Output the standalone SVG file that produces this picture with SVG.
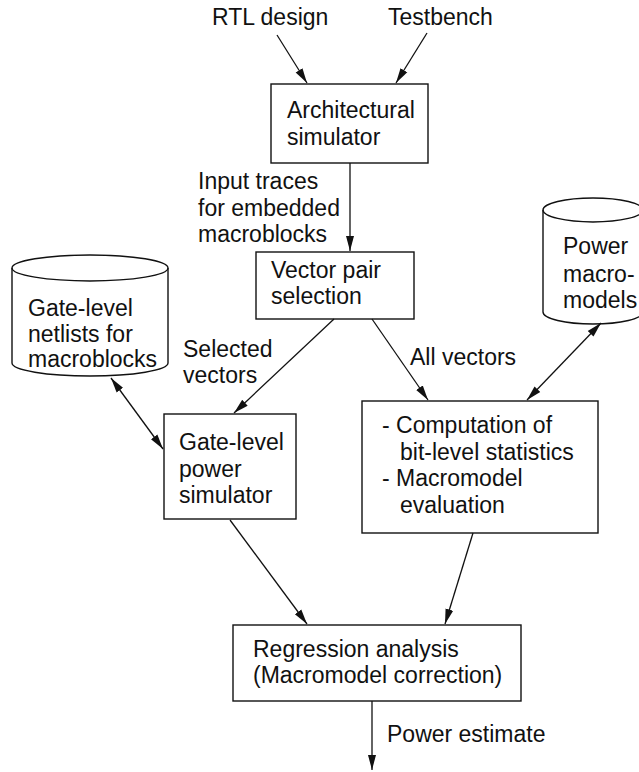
<svg xmlns="http://www.w3.org/2000/svg" width="639" height="772" viewBox="0 0 639 772">
<defs>
<marker id="ah" markerUnits="userSpaceOnUse" markerWidth="16" markerHeight="10" viewBox="0 0 16 10" refX="15" refY="5" orient="auto-start-reverse">
<path d="M0,1 L15,5 L0,9 Z" fill="#111"/>
</marker>
</defs>
<style>
text{font-family:"Liberation Sans",Arial,Helvetica,sans-serif;font-size:23px;fill:#111}
.box{fill:#fff;stroke:#111;stroke-width:1.4}
.ln{fill:none;stroke:#111;stroke-width:1.3}
.arr{fill:none;stroke:#111;stroke-width:1.3;marker-end:url(#ah)}
.arr2{fill:none;stroke:#111;stroke-width:1.3;marker-end:url(#ah);marker-start:url(#ah)}
</style>
<rect width="639" height="772" fill="#fff"/>
<g id="labels">
<text x="212" y="25">RTL design</text>
<text x="388" y="25">Testbench</text>
<text x="198" y="189">Input traces</text>
<text x="198" y="216">for embedded</text>
<text x="198" y="242">macroblocks</text>
<text x="183" y="357">Selected</text>
<text x="183" y="383">vectors</text>
<text x="410" y="365">All vectors</text>
<text x="387" y="742">Power estimate</text>
</g>
<g id="arch">
<rect class="box" x="271" y="84" width="157" height="79"/>
<text x="287" y="118">Architectural</text>
<text x="287" y="145">simulator</text>
</g>
<g id="vecpair">
<rect class="box" x="256" y="252" width="158" height="67"/>
<text x="271" y="278">Vector pair</text>
<text x="271" y="304">selection</text>
</g>
<g id="netlists">
<path class="box" d="M12,268 A78,13 0 0 1 168,268 L168,363 A78,13 0 0 1 12,363 Z"/>
<path class="ln" d="M12,268 A78,13 0 0 0 168,268"/>
<text x="28" y="316">Gate-level</text>
<text x="28" y="342">netlists for</text>
<text x="28" y="367">macroblocks</text>
</g>
<g id="powermodels">
<path class="box" d="M543,210 A50,12 0 0 1 643,210 L643,312 A50,12 0 0 1 543,312 Z"/>
<path class="ln" d="M543,210 A50,12 0 0 0 643,210"/>
<text x="563" y="254">Power</text>
<text x="563" y="282">macro-</text>
<text x="563" y="308">models</text>
</g>
<g id="gatesim">
<rect class="box" x="164" y="414" width="132" height="105"/>
<text x="179" y="450">Gate-level</text>
<text x="179" y="477">power</text>
<text x="179" y="503">simulator</text>
</g>
<g id="comp">
<rect class="box" x="362" y="401" width="236" height="132"/>
<text x="382" y="433">- Computation of</text>
<text x="400" y="460">bit-level statistics</text>
<text x="382" y="486">- Macromodel</text>
<text x="400" y="513">evaluation</text>
</g>
<g id="regression">
<rect class="box" x="233" y="625" width="288" height="76"/>
<text x="253" y="657">Regression analysis</text>
<text x="253" y="683">(Macromodel correction)</text>
</g>
<g id="connectors">
<line class="arr" x1="277" y1="35" x2="307" y2="83"/>
<line class="arr" x1="427" y1="33" x2="396" y2="83"/>
<line class="arr" x1="350" y1="163" x2="350" y2="251"/>
<line class="arr" x1="334" y1="319" x2="234" y2="413"/>
<line class="arr" x1="372" y1="319" x2="428" y2="400"/>
<line class="arr2" x1="601" y1="323" x2="527" y2="400"/>
<line class="arr2" x1="111" y1="378" x2="163" y2="449"/>
<line class="arr" x1="230" y1="520" x2="307" y2="624"/>
<line class="arr" x1="473" y1="533" x2="445" y2="624"/>
<line class="arr" x1="372" y1="701" x2="372" y2="770"/>
</g>
</svg>
